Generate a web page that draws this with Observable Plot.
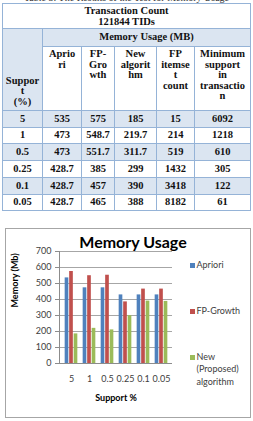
<!DOCTYPE html>
<html>
<head>
<meta charset="utf-8">
<script src="https://cdn.jsdelivr.net/npm/d3@7"></script>
<script src="https://cdn.jsdelivr.net/npm/@observablehq/plot@0.6"></script>
<style>
  html, body { margin: 0; padding: 0; background: #fff; }
  body { width: 253px; height: 421px; overflow: hidden; position: relative;
         font-family: "Liberation Serif", "Times New Roman", serif; }
  #caption { position: absolute; top: -8px; left: 0; width: 253px; text-align: center;
             font-size: 10px; color: #333; white-space: nowrap; }
  #tbl { position: absolute; left: 2px; top: 3px; width: 248px; border-collapse: collapse;
         table-layout: fixed; font-weight: bold; font-size: 10.5px; line-height: 10.5px; color: #111; }
  #tbl td { border: 1px solid #95b3d7; padding: 0; text-align: center; vertical-align: middle; }
  #tbl td.b { background: #dbe5f1; }
  #tbl td.h { vertical-align: top; padding-top: 2px; }
  #tbl td.sup { vertical-align: bottom; padding-bottom: 3px; }
  #tbl td.tc { line-height: 11.5px; }
  #chart { position: absolute; left: 5px; top: 228px; width: 246px; height: 190px;
           box-sizing: border-box; border: 1px solid #a6a6a6; font-family: Lato, sans-serif; }
  #chart svg { position: absolute; left: 0; top: 0; }
  #title { position: absolute; top: 4px; left: 0; width: 254px; text-align: center;
           font-size: 16px; line-height: 18px; font-weight: bold; color: #000; }
  .leg { position: absolute; left: 184px; font-size: 9px; line-height: 12.5px; color: #404040; }
  .leg i { position: absolute; left: 0; top: 4px; width: 5px; height: 5px; }
  .leg span { display: block; margin-left: 6.5px; }
</style>
</head>
<body>
<div id="caption">Table 3: The Results of the Test for Memory Usage</div>
<table id="tbl"></table>
<div id="chart">
  <div id="title">Memory Usage</div>
</div>
<script>
// Table: minimum support levels and measured memory usage (MB)
const supportLevels = ["5", "1", "0.5", "0.25", "0.1", "0.05"];
const aprioriMB = ["535", "473", "473", "428.7", "428.7", "428.7"];
const fpGrowthMB = ["575", "548.7", "551.7", "385", "457", "465"];
const newAlgorithmMB = ["185", "219.7", "311.7", "299", "390", "388"];
const fpItemsetCount = ["15", "214", "519", "1432", "3418", "8182"];
const minSupportTransactions = ["6092", "1218", "610", "305", "122", "61"];

// Column headings, as wrapped in the narrow table cells
const supportHeading = ["Suppor", "t", "(%)"];
const columnHeadings = [
  ["Aprio", "ri"],
  ["FP-", "Gro", "wth"],
  ["New", "algorit", "hm"],
  ["FP", "itemse", "t", "count"],
  ["Minimum", "support", "in", "transactio", "n"]
];
const columnWidths = [40, 39, 33, 42, 38, 56];

// Bar chart series (Mb)
const chartApriori = [535, 473, 473, 428.7, 428.7, 428.7];
const chartFpGrowth = [575, 548.7, 551.7, 385, 465, 465];
const chartNew = [185, 219.7, 210, 299, 390, 388];
const seriesNames = ["Apriori", "FP-Growth", "New (Proposed) algorithm"];
const legendLines = [["Apriori"], ["FP-Growth"], ["New", "(Proposed)", "algorithm"]];
const seriesColors = ["#4f81bd", "#c0504d", "#9bbb59"];
const yTickValues = [0, 100, 200, 300, 400, 500, 600, 700];
const xTitle = "Support %";
const yTitle = "Memory (Mb)";

// ---- table ----
const rowHeights = [17, 16, 17, 17, 17, 16];
let html = "<colgroup>" + columnWidths.map(w => `<col style="width:${w}px">`).join("") + "</colgroup>";
html += `<tr style="height:25px"><td class="tc" colspan="6">Transaction Count<br>121844 TIDs</td></tr>`;
html += `<tr style="height:18px"><td class="b sup" rowspan="2">${supportHeading.join("<br>")}</td>` +
        `<td class="b" colspan="5">Memory Usage (MB)</td></tr>`;
html += `<tr style="height:64px">` + columnHeadings.map(h => `<td class="h">${h.join("<br>")}</td>`).join("") + "</tr>";
supportLevels.forEach((s, i) => {
  const cls = i % 2 === 0 ? ' class="b"' : "";
  const cells = [s, aprioriMB[i], fpGrowthMB[i], newAlgorithmMB[i], fpItemsetCount[i], minSupportTransactions[i]];
  html += `<tr style="height:${rowHeights[i]}px">` + cells.map(c => `<td${cls}>${c}</td>`).join("") + "</tr>";
});
document.getElementById("tbl").innerHTML = html;

// ---- chart ----
const W = 244, H = 188, ML = 53, MR = 78, MT = 22, MB = 54;
const band = (W - ML - MR) / supportLevels.length;
const barW = 4.5;
const pad = (band - 3 * barW) / 2;
const seriesValues = [chartApriori, chartFpGrowth, chartNew];

const bars = seriesValues.map((vals, k) =>
  Plot.barY(supportLevels.map((s, i) => ({support: s, value: vals[i], series: seriesNames[k]})), {
    x: "support",
    y: "value",
    fill: seriesColors[k],
    insetLeft: pad + k * barW,
    insetRight: pad + (2 - k) * barW
  })
);

const chart = Plot.plot({
  width: W, height: H,
  marginLeft: ML, marginRight: MR, marginTop: MT, marginBottom: MB,
  style: {fontFamily: "Lato, sans-serif", fontSize: "9px", color: "#404040", background: "transparent", overflow: "visible"},
  x: {type: "band", domain: supportLevels, paddingInner: 0, paddingOuter: 0},
  y: {domain: [0, 700]},
  marks: [
    Plot.ruleY(yTickValues, {stroke: "#a6a6a6"}),
    ...bars,
    Plot.frame({anchor: "left", stroke: "#8c8c8c"}),
    Plot.ruleY([0], {stroke: "#8c8c8c"}),
    Plot.axisY({ticks: yTickValues, tickSize: 4, tickPadding: 4, stroke: "#8c8c8c", label: null}),
    Plot.axisX({tickSize: 0, tickPadding: 12, label: null}),
    Plot.text([yTitle], {frameAnchor: "left", rotate: -90, dx: -44, fontWeight: "bold", fill: "#000", fontSize: 9}),
    Plot.text([xTitle], {frameAnchor: "bottom", dy: 37, fontWeight: "bold", fill: "#000", fontSize: 9})
  ]
});
const box = document.getElementById("chart");
box.appendChild(chart);

// legend
const legendTops = [29.75, 75.75, 121.75];
legendLines.forEach((lines, k) => {
  const d = document.createElement("div");
  d.className = "leg";
  d.style.top = legendTops[k] + "px";
  d.innerHTML = `<i style="background:${seriesColors[k]}"></i><span>${lines.join("<br>")}</span>`;
  box.appendChild(d);
});
</script>
</body>
</html>
